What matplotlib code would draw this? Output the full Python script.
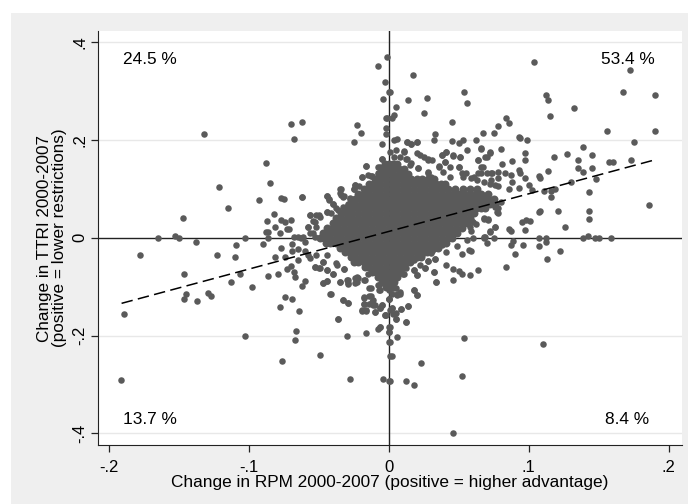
import numpy as np
import matplotlib
matplotlib.use("Agg")
import matplotlib.pyplot as plt
from matplotlib.patches import Rectangle

plt.rcParams['font.family'] = ['Liberation Sans', 'DejaVu Sans']

# values below are in thousandths
# upper left
ul_x = [-132,-70,-62,-68,-23,-20,-25,-5,-8,-1,-3,-4,0,-2,-2,-2,-88,-85,-121,-115,-147,-93,-77,-75,-62,-16,-5,-82,-87,-77,-74,-70,-81,-88,-86,-78,-73,-71,-165,-153,-150,-103,-86,-56,-54,-50,-58,-44,-43,-35,-34,-32,-24,-25,-19,-13,-6,-8,-40,-44,-28,-29,-22,-14,-68,-65,-61,-52,-54,-36,-33,-23,-49]
ul_y = [212,232,237,203,231,214,195,192,351,369,318,284,298,246,224,212,152,113,104,61,40,77,81,79,83,147,162,48,34,37,33,36,23,11,11,10,19,18,0,4,-1,0,-1,46,34,47,23,86,77,92,99,85,108,99,125,127,145,133,70,53,81,70,88,105,2,1,1,23,9,57,64,64,43]
# upper right
ur_x = [17,1,14,27,54,56,5,25,4,2,-1,45,33,32,6,4,13,16,20,45,50,53,62,67,75,78,84,86,93,94,99,104,112,114,115,132,156,167,172,190,190,175,173,157,160,139,145,145,135,135,139,148,127,118,114,107,108,130,143,186,143,143,121,107,108,126,111,119,116,116,97,95,98,101,86,87,107,112,139,142,147,150,159,80,97,97,88,81,72,70,66,64,56,51,46,38,41,67,93,94,97,100,102,87,83,78,88,93,86,80,78,78,71,68,76,72,68,59,63,59,62,59,49,22,28,11,13,16,21,36,40,50,55,28,61,66,73,73,78,5,8]
ur_y = [333,298,282,285,298,276,267,255,251,244,244,236,212,201,203,199,195,192,195,198,193,200,199,214,215,229,245,235,207,205,199,360,292,282,250,266,218,298,344,293,218,195,160,154,156,186,169,142,160,143,134,120,172,165,137,126,123,114,93,68,55,38,54,52,55,23,96,99,96,84,16,32,37,34,19,13,0,0,0,3,0,0,0,182,173,160,157,151,175,166,182,160,180,165,168,169,175,145,139,132,122,108,98,128,132,135,115,101,99,74,60,51,38,38,23,13,2,70,60,36,28,13,43,169,162,176,162,152,142,145,156,145,132,132,125,132,132,118,105,180,166]
# lower left
ll_x = [-138,-178,-123,-109,-110,-90,-77,-81,-74,-69,-65,-60,-58,-69,-65,-146,-145,-146,-137,-129,-127,-113,-106,-98,-86,-79,-73,-70,-68,-67,-60,-62,-74,-69,-78,-64,-189,-191,-103,-66,-67,-76,-49,-36,-30,-16,-28,-4,0,-8,-6,0,0,1,-3,-10,-19,-16,-18,-18,-14,-12,-10,-14,-5,-6,0,1,-33,-29,-42,-35,-47,-44,-29,-29,-24,-24,-18,-14,-8,-6,0,-32,-40,-44,-53,-49,-37,-52,-44,-23,-15,-47]
ll_y = [-9,-36,-36,-15,-40,-13,-20,-39,-39,-13,-22,-27,-35,-28,-45,-74,-114,-126,-129,-112,-120,-90,-75,-100,-79,-73,-64,-57,-69,-80,-88,-99,-121,-125,-142,-150,-155,-291,-201,-191,-208,-251,-239,-167,-200,-194,-289,-288,-292,-187,-182,-192,-214,-241,-158,-151,-149,-149,-136,-122,-120,-131,-138,-136,-138,-144,-126,-148,-127,-134,-114,-91,-93,-88,-86,-95,-83,-92,-86,-103,-97,-107,-107,-64,-73,-66,-60,-62,-56,-35,-35,-80,-73,-49]
# lower right
lr_x = [46,110,54,52,23,12,18,1,2,1,6,0,1,12,5,5,2,9,14,0,-2,20,18,8,6,5,1,34,46,58,52,50,46,64,41,32,84,113,122,90,96,107,112,87,89,75,68,70,59,57,52,33,28,26,22,20,18,11,41,49,56,60,31,24,18,12,38]
lr_y = [-400,-218,-205,-282,-255,-292,-300,-292,-242,-214,-202,-192,-182,-172,-167,-153,-143,-146,-140,-126,-158,-117,-107,-114,-117,-103,-103,-91,-87,-77,-73,-68,-63,-65,-56,-70,-60,-43,-26,-33,-14,-17,-8,-15,-7,-1,-1,-11,-28,-24,-33,-44,-47,-62,-56,-76,-66,-73,-30,-16,-4,0,-28,-35,-45,-62,-15]

# edge of the cloud
wing_x = [13,16,20,11,12,15,11,20,25,28,31,21,38,41,46,51,36,40,39,44,50,28,30,44,52,53,59,64,70,74,63,68,72,76,78,66,64,66,69,72,68,71,60,58,76,77,72,69,76]
wing_y = [195,192,195,178,162,149,139,173,166,159,159,142,169,176,169,166,147,156,135,144,145,134,125,125,132,125,122,132,132,132,119,115,111,108,122,145,160,183,166,174,40,36,33,23,64,53,12,2,23]
left_x = [-44,-43,-40,-38,-41,-44,-56,-52,-53,-58,-28,-29,-31,-22,-24,-25,-19,-15,-12,-8,-6,-5,1,4,-21,-13,-10,-63,-60,-56,-53,-62,-16,-35,-34,-33]
left_y = [85,79,70,60,50,53,47,47,33,23,79,67,57,64,108,99,125,128,126,145,135,162,176,166,105,111,118,-1,-8,9,2,83,147,99,87,83]
low_x = [-56,-53,-50,-47,-44,-40,-38,-32,-47,-44,-35,-41,-30,-29,-23,-22,-17,-33,-29,-36,-13,-7,-7,1,2,6,8,3,-18,-13,-11,-18,-11,-16,-19,-10,-5,-6,0,2,3,-3,9,14,5,12,18,20,10,18,20,26,28,33,32,34,25,30,-6,0]
low_y = [-42,-59,-62,-49,-66,-73,-52,-64,-93,-88,-91,-114,-86,-93,-90,-83,-86,-127,-134,-167,-103,-107,-96,-103,-114,-114,-110,-103,-124,-120,-127,-135,-137,-148,-148,-151,-137,-144,-126,-144,-155,-158,-146,-139,-167,-172,-107,-117,-73,-66,-76,-62,-47,-44,-69,-91,-28,-32,-182,-183]

# the dense middle of the cloud, one list of x per y level
y_levels = [150,140,130,120,110,100,90,80,70,60,50,40,30,20,10,0,-10,-20,-30,-40,-50,-60,-70,-80,-90,-100]
x_p150 = [-3,0,3,6]
x_p140 = [-5,-1,3,7,11]
x_p130 = [-7,-4,-1,3,7,11,14]
x_p120 = [-10,-6,-2,2,6,10,13,16,20,24,28,32]
x_p110 = [-14,-10,-6,-2,2,6,10,14,18,22,26,30,34,37,40]
x_p100 = [-18,-14,-10,-6,-2,2,6,10,14,18,22,26,30,34,38,42,47,53,58,63]
x_p90 = [-22,-18,-14,-10,-6,-2,2,6,10,14,18,22,26,30,34,38,42,46,50,54,58,62,66,71]
x_p80 = [-24,-20,-16,-13,-9,-5,-1,3,7,11,15,19,23,27,31,35,39,43,47,51,55,59,63,67,71,75]
x_p70 = [-28,-24,-20,-16,-12,-8,-4,0,4,8,12,16,20,24,28,32,36,40,44,48,52,56,60,64,68,72,76]
x_p60 = [-30,-26,-22,-18,-14,-10,-6,-2,2,6,10,14,18,22,26,30,34,38,42,46,50,54,58,62,66,69]
x_p50 = [-34,-30,-26,-22,-18,-14,-10,-6,-2,2,6,10,14,18,22,26,30,34,38,42,46,50,54,58,61]
x_p40 = [-38,-34,-30,-26,-22,-18,-14,-10,-6,-2,2,6,10,14,18,22,26,30,34,38,42,46,50,54,58]
x_p30 = [-40,-36,-32,-28,-24,-20,-16,-12,-8,-4,0,4,8,12,16,20,24,28,32,36,40,44,48,52,56]
x_p20 = [-44,-40,-36,-32,-28,-24,-20,-16,-12,-8,-4,0,4,8,12,16,20,24,28,32,36,40,44,48,52]
x_p10 = [-47,-45,-42,-38,-34,-30,-26,-22,-18,-14,-10,-6,-2,2,6,10,14,18,22,26,30,34,38,42,46,49]
x_0 = [-49,-46,-42,-38,-34,-30,-26,-22,-18,-14,-10,-6,-2,2,6,10,14,18,22,26,30,34,38,42,45]
x_m10 = [-45,-42,-38,-34,-30,-26,-22,-18,-14,-10,-6,-2,2,6,10,14,18,22,26,30,34,38,41]
x_m20 = [-35,-32,-28,-24,-20,-16,-12,-8,-4,0,4,8,12,16,20,24,28,32,35]
x_m30 = [-31,-28,-24,-20,-16,-12,-8,-4,0,4,8,12,16,20,24,27]
x_m40 = [-27,-24,-20,-16,-12,-8,-4,0,4,8,12,16,20,23]
x_m50 = [-25,-22,-18,-14,-10,-6,-2,2,6,10,13,15]
x_m60 = [-17,-14,-10,-6,-2,2,6,10,11]
x_m70 = [-12,-9,-5,-1,3,7,8]
x_m80 = [-8,-5,-1,3,6]
x_m90 = [-5,-2,2,4]
x_m100 = [-2,0,2]
x_rows = [x_p150,x_p140,x_p130,x_p120,x_p110,x_p100,x_p90,x_p80,x_p70,x_p60,x_p50,x_p40,x_p30,
          x_p20,x_p10,x_0,x_m10,x_m20,x_m30,x_m40,x_m50,x_m60,x_m70,x_m80,x_m90,x_m100]

# fitted line ends
fit_x = [-190.8,188.3]
fit_y = [-134,158]

xticks = [-.2,-.1,0,.1,.2]
xticklabels = ["-.2","-.1","0",".1",".2"]
yticks = [-.4,-.2,0,.2,.4]
yticklabels = ["-.4","-.2","0",".2",".4"]

core_x = np.array([v for row in x_rows for v in row])/1000
core_y = np.array([lev for lev,row in zip(y_levels,x_rows) for v in row])/1000
all_x = np.array(ul_x+ur_x+ll_x+lr_x+wing_x+left_x+low_x)/1000
all_y = np.array(ul_y+ur_y+ll_y+lr_y+wing_y+left_y+low_y)/1000

W,H = 688,504
fig = plt.figure(figsize=(W/100,H/100),dpi=100,facecolor="white")
fig.patches.append(Rectangle((11/W,0),1-11/W,(H-13)/H,transform=fig.transFigure,facecolor="#efefef",edgecolor="none",zorder=-1))

ax = fig.add_axes([97.5/W,(H-445)/H,(682.3-97.5)/W,(445-31)/H],facecolor="white")
ax.set_xlim(-.208,.2097)
ax.set_ylim(-.4237,.4229)

for y in [-.4,-.2,.2,.4]:
    ax.axhline(y,color="#e8e8e8",lw=1,zorder=1)
ax.axhline(0,color="#222222",lw=1,zorder=2)
ax.axvline(0,color="#222222",lw=1,zorder=2)

# bigger dots in the middle so it closes up like the original
ax.scatter(core_x,core_y,s=33,color="#5a5a5a",linewidths=0,zorder=3)
ax.scatter(all_x,all_y,s=22,color="#5a5a5a",linewidths=0,zorder=3)
ax.plot(np.array(fit_x)/1000,np.array(fit_y)/1000,color="black",lw=1.1,dashes=(7.5,3.5),zorder=4)

ax.spines["top"].set_visible(False)
ax.spines["right"].set_visible(False)
ax.spines["left"].set_color("#222222")
ax.spines["bottom"].set_color("#222222")

ax.set_xticks(xticks,xticklabels,fontsize=12)
ax.set_yticks(yticks,yticklabels,fontsize=12,rotation=90,va="center")
ax.tick_params(length=5,width=0.9,color="#222222")
ax.tick_params(axis="x",pad=5.5)
ax.tick_params(axis="y",pad=2.5)

ax.set_xlabel("Change in RPM 2000-2007 (positive = higher advantage)",fontsize=12.4,labelpad=0.6)
ax.set_ylabel("Change in TTRI 2000-2007\n(positive = lower restrictions)",fontsize=12.3,labelpad=4,linespacing=1.0)

ax.text(-.19,.364,"24.5 %",fontsize=12.4,va="center")
ax.text(.19,.364,"53.4 %",fontsize=12.4,va="center",ha="right")
ax.text(-.19,-.372,"13.7 %",fontsize=12.4,va="center")
ax.text(.186,-.372,"8.4 %",fontsize=12.4,va="center",ha="right")

fig.savefig("out.png",dpi=100,facecolor=fig.get_facecolor())
